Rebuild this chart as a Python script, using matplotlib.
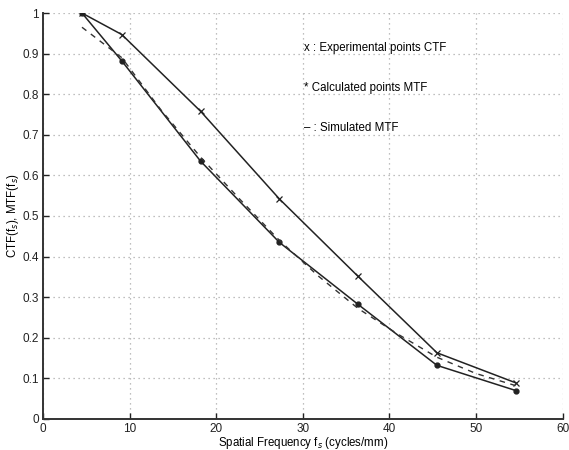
import numpy as np
import matplotlib.pyplot as plt

# spatial frequencies (cycles/mm) of the bar targets
freq = [4.5, 9.1, 18.2, 27.3, 36.4, 45.5, 54.6]
ctf_exp = [1.0, 0.947, 0.758, 0.542, 0.351, 0.163, 0.089]
mtf_calc = [1.0, 0.882, 0.635, 0.435, 0.282, 0.132, 0.070]

# simulated MTF curve
freq_sim = [4.5, 9.1, 13.6, 18.2, 22.7, 27.3, 31.8, 36.4, 40.9, 45.5, 50.0, 54.6]
mtf_sim = [0.965, 0.89, 0.762, 0.645, 0.542, 0.44, 0.352, 0.272, 0.21, 0.152, 0.112, 0.082]

plt.rcParams['font.family'] = ['Liberation Sans', 'DejaVu Sans']

fig = plt.figure(figsize=(5.69, 4.5), dpi=100)
ax = fig.add_axes([0.0756, 0.069, 0.913, 0.902])

ax.plot(freq, ctf_exp, color='#222222', lw=1.1, marker='x', ms=4, mew=0.9)
ax.plot(freq, mtf_calc, color='#222222', lw=1.1, marker='o', ms=3.5)
ax.plot(freq_sim, mtf_sim, color='#333333', lw=1.0, ls=(0, (4, 4)))

ax.text(30.2, 0.914, 'x : Experimental points CTF', fontsize=8.3, va='center')
ax.text(30.2, 0.815, '* Calculated points MTF', fontsize=8.3, va='center')
ax.text(30.2, 0.717, '– : Simulated MTF', fontsize=8.3, va='center')

ax.set_xlim(0, 60)
ax.set_ylim(0, 1)
ax.set_xticks(np.arange(0, 61, 10))
ax.set_yticks(np.arange(0, 1.01, 0.1))
ax.set_yticklabels(['0', '0.1', '0.2', '0.3', '0.4', '0.5', '0.6', '0.7', '0.8', '0.9', '1'])
ax.tick_params(direction='in', labelsize=8.5, length=4, width=1, colors='#222222', pad=3)
ax.grid(True, ls=(0, (1, 3)), color='#aaaaaa', lw=0.9)

for side in ['top', 'right']:
    ax.spines[side].set_visible(False)
for side in ['left', 'bottom']:
    ax.spines[side].set_linewidth(1.4)
    ax.spines[side].set_color('#333333')

ax.set_xlabel('Spatial Frequency f$_s$ (cycles/mm)', fontsize=8.3, labelpad=0)
ax.set_ylabel('CTF(f$_s$), MTF(f$_s$)', fontsize=8.3, labelpad=1)

fig.savefig('out.png', dpi=100)
